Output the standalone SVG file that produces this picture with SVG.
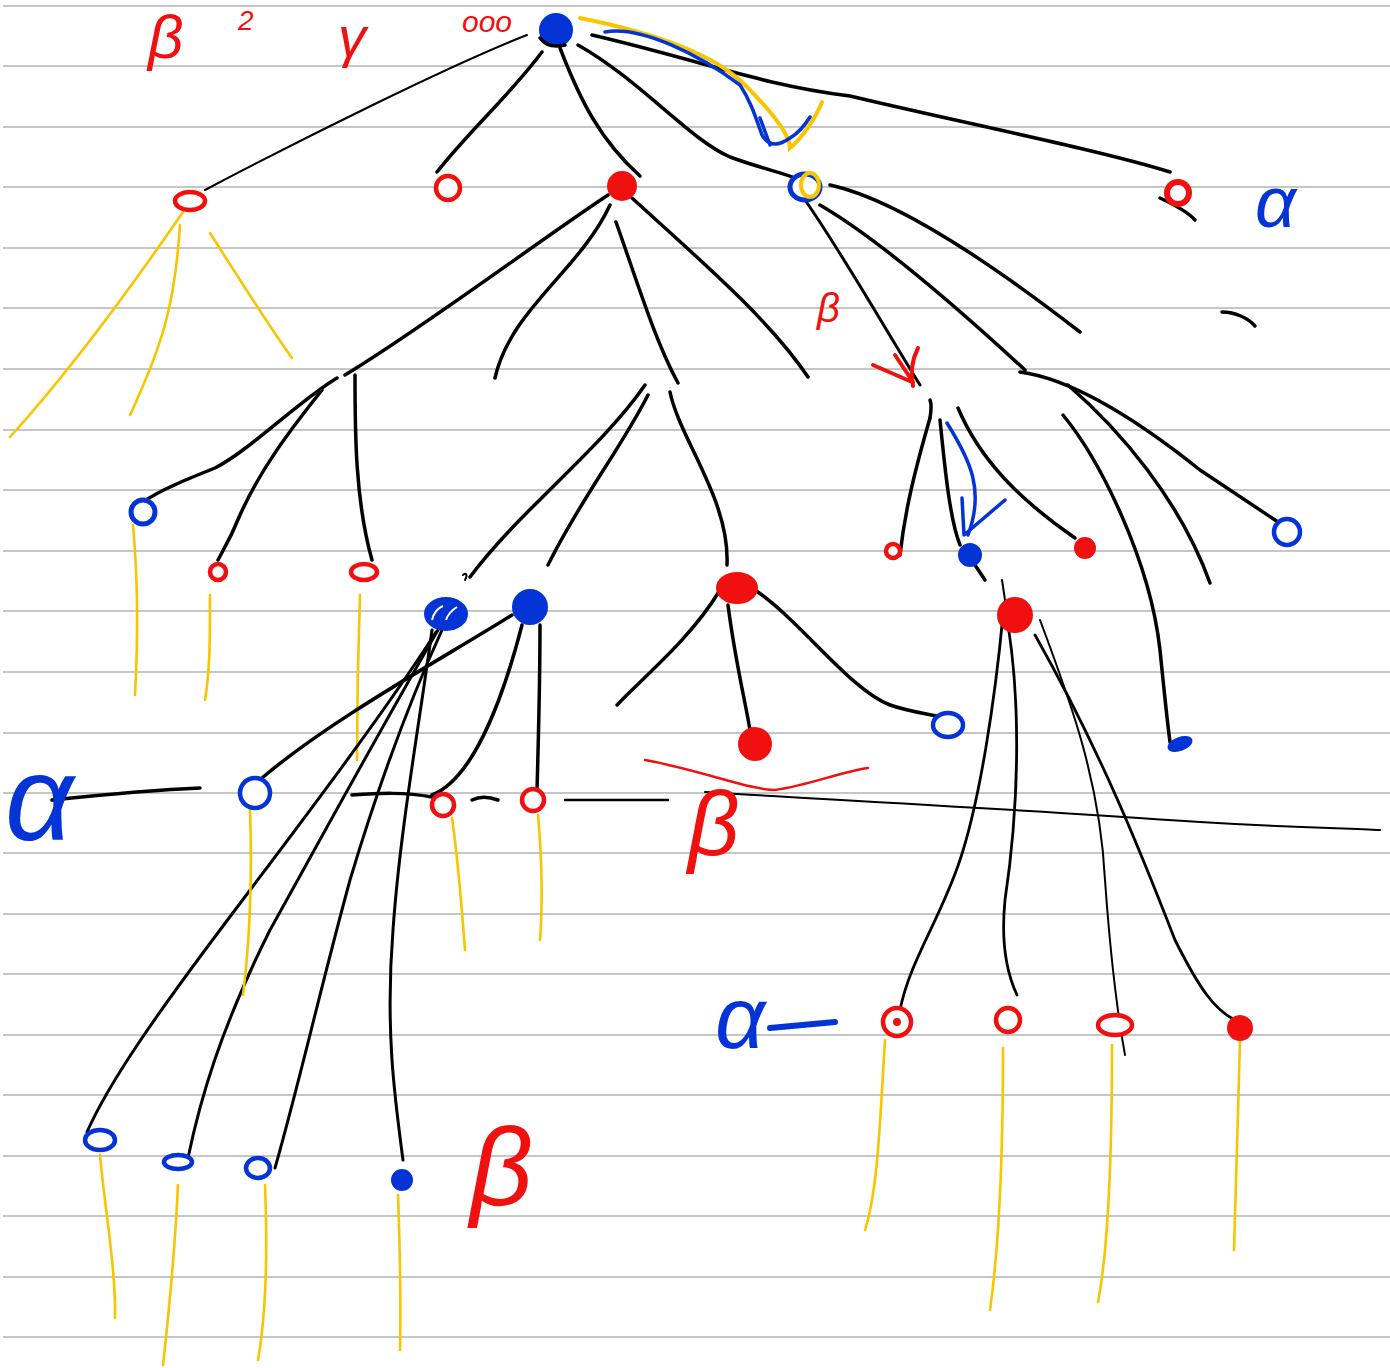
<svg xmlns="http://www.w3.org/2000/svg" width="1390" height="1368" viewBox="0 0 1390 1368">
<style>
.rule{stroke:#b4b4b4;stroke-width:1.6}
.k{fill:none;stroke:#000;stroke-width:3.5;stroke-linecap:round;stroke-linejoin:round}
.kt{fill:none;stroke:#000;stroke-width:2;stroke-linecap:round}
.y{fill:none;stroke:#f7c600;stroke-width:2.6;stroke-linecap:round}
.bs{fill:none;stroke:#0433d6;stroke-width:3.5;stroke-linecap:round;stroke-linejoin:round}
.rs{fill:none;stroke:#f01010;stroke-width:4;stroke-linecap:round;stroke-linejoin:round}
.ro{fill:#fff;stroke:#f01010;stroke-width:4.5}
.rf{fill:#f01010;stroke:#f01010;stroke-width:2}
.bo{fill:#fff;stroke:#0433d6;stroke-width:4.5}
.bf{fill:#0433d6;stroke:#0433d6;stroke-width:2}
.lab{font-family:"Liberation Sans","DejaVu Sans",sans-serif;font-style:italic}
.rl{fill:#f01010}
.bl{fill:#0433d6}
</style>
<rect width="1390" height="1368" fill="#fff"/>
<g id="ruling">
<path class="rule" d="M3,6H1390M3,66H1390M3,127H1390M3,187H1390M3,248H1390M3,308H1390M3,369H1390M3,430H1390M3,490H1390M3,551H1390M3,611H1390M3,672H1390M3,733H1390M3,793H1390M3,853H1390M3,914H1390M3,974H1390M3,1035H1390M3,1095H1390M3,1156H1390M3,1216H1390M3,1277H1390M3,1337H1390"/>
</g>
<g id="connectors">
<path class="kt" d="M527,35 C450,65 300,140 205,190"/>
<path class="k" d="M542,52 C510,95 470,130 437,172"/>
<path class="k" d="M560,48 C580,100 600,140 640,176"/>
<path class="k" d="M578,45 C640,80 690,140 730,157 C760,168 780,172 795,178"/>
<path class="k" d="M592,35 C700,60 760,85 850,96 C950,120 1100,150 1170,172"/>
<path class="k" d="M1160,198 C1175,205 1188,212 1195,220"/>
<path class="y" d="M580,18 C640,30 710,50 745,85 C770,110 790,135 790,148 C800,140 815,120 822,102" style="stroke-width:4"/>
<path class="bs" d="M605,32 C640,25 700,55 740,85 C750,100 755,115 762,135 C770,148 780,145 790,138 C800,132 805,125 810,117"/>
<path class="bs" d="M760,118 L770,145"/>
<path class="y" d="M183,212 C150,260 80,360 10,437"/>
<path class="y" d="M180,225 C175,300 165,340 130,415"/>
<path class="y" d="M210,233 C240,280 265,320 292,358"/>
<path class="k" d="M608,195 C540,240 420,330 345,375"/>
<path class="k" d="M610,205 C580,270 510,310 495,378"/>
<path class="k" d="M616,222 C640,290 655,340 678,383"/>
<path class="k" d="M632,198 C700,260 770,320 808,377"/>
<path class="k" d="M337,378 C300,400 250,450 215,468 C190,478 160,490 143,502"/>
<path class="k" d="M322,390 C290,430 260,470 240,515 C230,540 222,552 218,560"/>
<path class="k" d="M355,375 C355,430 355,500 372,560"/>
<path class="y" d="M133,525 C138,580 138,640 135,695"/>
<path class="y" d="M210,595 C210,640 210,670 205,700"/>
<path class="y" d="M360,595 C358,650 357,700 357,760"/>
<path class="k" d="M645,385 C600,450 520,510 470,577"/>
<path class="k" d="M648,395 C620,450 580,500 548,565"/>
<path class="k" d="M670,392 C680,440 730,500 727,565"/>
<path class="kt" d="M463,575 C466,572 468,575 465,580"/>
<path class="k" d="M436,632 C380,720 280,850 220,930 C160,1010 110,1080 87,1132" style="stroke-width:3"/>
<path class="k" d="M438,630 C380,730 320,840 270,930 C220,1030 200,1100 188,1158" style="stroke-width:3"/>
<path class="k" d="M442,630 C410,700 380,780 350,880 C320,990 300,1080 275,1168" style="stroke-width:3"/>
<path class="k" d="M432,630 C420,720 400,830 393,930 C385,1030 395,1100 403,1160" style="stroke-width:3"/>
<path class="k" d="M512,615 C440,660 330,720 262,778"/>
<path class="k" d="M522,625 C500,710 470,780 432,795"/>
<path class="k" d="M540,625 C540,690 538,750 537,792"/>
<path class="y" d="M250,808 C252,870 250,940 243,995"/>
<path class="y" d="M452,818 C458,860 462,910 465,950"/>
<path class="y" d="M538,815 C542,860 543,900 540,940"/>
<path class="k" d="M52,800 C100,795 150,790 200,788"/>
<path class="k" d="M352,795 C380,793 405,792 432,797"/>
<path class="k" d="M472,800 C480,796 490,797 498,800"/>
<path class="k" d="M565,800 L668,800" style="stroke-width:2.5"/>
<path class="kt" d="M705,792 C800,798 1000,808 1200,822 C1300,828 1350,828 1380,830"/>
<path class="rs" d="M645,760 C700,770 750,790 775,790 C810,785 840,772 868,768" style="stroke-width:2.5"/>
<path class="k" d="M720,590 C690,640 640,680 617,705"/>
<path class="k" d="M728,605 C735,660 745,700 750,730"/>
<path class="k" d="M755,590 C800,620 850,690 890,705 C910,712 930,714 945,718"/>
<path class="k" d="M805,200 C840,250 880,320 920,385" style="stroke-width:3"/>
<path class="k" d="M820,205 C880,240 960,310 1025,370"/>
<path class="k" d="M830,185 C900,200 1000,270 1080,332"/>
<path class="k" d="M1222,312 C1235,312 1248,318 1255,326"/>
<path class="rs" d="M873,365 L912,382 M895,355 L913,382 M918,348 C912,360 910,372 913,386"/>
<path class="k" d="M930,400 C932,405 931,412 930,418"/>
<path class="k" d="M930,418 C915,470 905,510 900,555"/>
<path class="k" d="M940,420 C945,470 950,520 960,545"/>
<path class="k" d="M958,408 C980,460 1020,500 1075,538"/>
<path class="bs" d="M947,423 C970,460 985,490 968,535"/>
<path class="bs" d="M962,498 L964,535 L1005,500"/>
<path class="k" d="M1020,372 C1080,380 1150,430 1200,470 C1230,490 1260,510 1278,522"/>
<path class="k" d="M1068,385 C1120,430 1180,500 1210,583"/>
<path class="k" d="M1063,415 C1100,460 1150,560 1160,650 C1165,700 1167,720 1170,742"/>
<path class="k" d="M975,565 L985,580"/>
<path class="kt" d="M1002,580 L1005,600"/>
<path class="k" d="M1003,615 C995,700 980,800 960,860 C940,920 910,960 900,1010" style="stroke-width:2.8"/>
<path class="k" d="M1008,625 C1020,700 1020,800 1005,900 C1000,950 1010,980 1017,995" style="stroke-width:2.8"/>
<path class="kt" d="M1040,620 C1070,700 1100,780 1105,880 C1110,950 1115,1000 1125,1055"/>
<path class="k" d="M1035,635 C1100,750 1140,850 1175,940 C1200,990 1215,1010 1235,1020" style="stroke-width:2.8"/>
<path class="y" d="M885,1040 C880,1120 878,1190 865,1230"/>
<path class="y" d="M1003,1048 C1003,1140 1000,1240 990,1310"/>
<path class="y" d="M1112,1045 C1112,1140 1110,1240 1098,1302"/>
<path class="y" d="M1240,1040 C1238,1110 1236,1190 1234,1250"/>
<path class="y" d="M100,1155 C105,1210 116,1270 115,1318"/>
<path class="y" d="M178,1185 C175,1250 168,1320 163,1365"/>
<path class="y" d="M265,1185 C268,1260 265,1320 258,1360"/>
<path class="y" d="M398,1195 C400,1250 401,1300 400,1350"/>
</g>
<g id="root"><circle class="bf" cx="556" cy="30" r="16"/><path class="k" d="M540,38 C545,45 552,48 565,45"/></g>
<g id="n-a"><ellipse class="ro" cx="190" cy="201" rx="15" ry="9"/></g>
<g id="n-b"><circle class="ro" cx="448" cy="188" r="12"/></g>
<g id="n-c"><circle class="rf" cx="622" cy="186" r="14"/></g>
<g id="n-d"><ellipse cx="805" cy="187" rx="15" ry="13" fill="#fff" stroke="#0433d6" stroke-width="5"/><ellipse cx="810" cy="185" rx="9" ry="12" fill="none" stroke="#f7c600" stroke-width="4"/></g>
<g id="n-e"><circle class="ro" cx="1178" cy="193" r="11" style="stroke-width:6"/></g>
<g id="n-f"><circle class="bo" cx="143" cy="512" r="12" style="stroke-width:5"/></g>
<g id="n-g"><circle class="ro" cx="218" cy="572" r="8"/></g>
<g id="n-h"><ellipse class="ro" cx="364" cy="572" rx="13" ry="8"/></g>
<g id="n-i"><ellipse class="bf" cx="446" cy="614" rx="21" ry="16"/><path d="M432,620 C434,612 438,608 443,606 M446,620 C448,614 452,610 457,607" stroke="#fff" stroke-width="2" fill="none"/></g>
<g id="n-j"><circle class="bf" cx="530" cy="607" r="17"/></g>
<g id="n-k"><ellipse class="rf" cx="737" cy="588" rx="20" ry="15"/></g>
<g id="n-l"><circle class="rf" cx="755" cy="744" r="16"/></g>
<g id="n-m"><ellipse class="bo" cx="948" cy="725" rx="15" ry="12"/></g>
<g id="n-n"><circle class="ro" cx="893" cy="551" r="7"/></g>
<g id="n-o"><circle class="bf" cx="970" cy="555" r="11"/></g>
<g id="n-p"><circle class="rf" cx="1085" cy="548" r="10"/></g>
<g id="n-q"><circle class="bo" cx="1287" cy="532" r="13"/></g>
<g id="n-r"><ellipse class="bf" cx="1180" cy="744" rx="12" ry="6" transform="rotate(-20 1180 744)"/></g>
<g id="n-s"><circle class="rf" cx="1015" cy="615" r="17"/></g>
<g id="n-t"><circle class="bo" cx="255" cy="793" r="15"/></g>
<g id="n-u"><circle class="ro" cx="443" cy="805" r="11"/></g>
<g id="n-v"><circle class="ro" cx="533" cy="800" r="11"/></g>
<g id="n-w"><circle class="ro" cx="897" cy="1022" r="14"/><circle cx="897" cy="1022" r="4" fill="#f01010"/></g>
<g id="n-x"><circle class="ro" cx="1008" cy="1020" r="12"/></g>
<g id="n-y"><ellipse class="ro" cx="1115" cy="1025" rx="17" ry="10"/></g>
<g id="n-z"><circle class="rf" cx="1240" cy="1028" r="12"/></g>
<g id="n-b1"><ellipse class="bo" cx="100" cy="1140" rx="15" ry="10"/></g>
<g id="n-b2"><ellipse class="bo" cx="178" cy="1162" rx="14" ry="7"/></g>
<g id="n-b3"><ellipse class="bo" cx="258" cy="1168" rx="12" ry="10"/></g>
<g id="n-b4"><circle class="bf" cx="402" cy="1180" r="10"/></g>
<g id="labels">
<text class="lab rl" x="148" y="58" font-size="62">β</text>
<text class="lab rl" x="238" y="30" font-size="28">2</text>
<text class="lab rl" x="338" y="56" font-size="56">γ</text>
<text class="lab rl" x="462" y="32" font-size="30">ooo</text>
<text class="lab bl" x="1255" y="227" font-size="72">α</text>
<text class="lab bl" x="5" y="840" font-size="120">α</text>
<text class="lab bl" x="715" y="1048" font-size="88">α</text>
<path class="bs" d="M770,1028 L835,1022" style="stroke-width:6"/>
<text class="lab rl" x="688" y="855" font-size="90">β</text>
<text class="lab rl" x="470" y="1205" font-size="110">β</text>
<text class="lab rl" x="817" y="322" font-size="40">β</text>
</g>
</svg>
